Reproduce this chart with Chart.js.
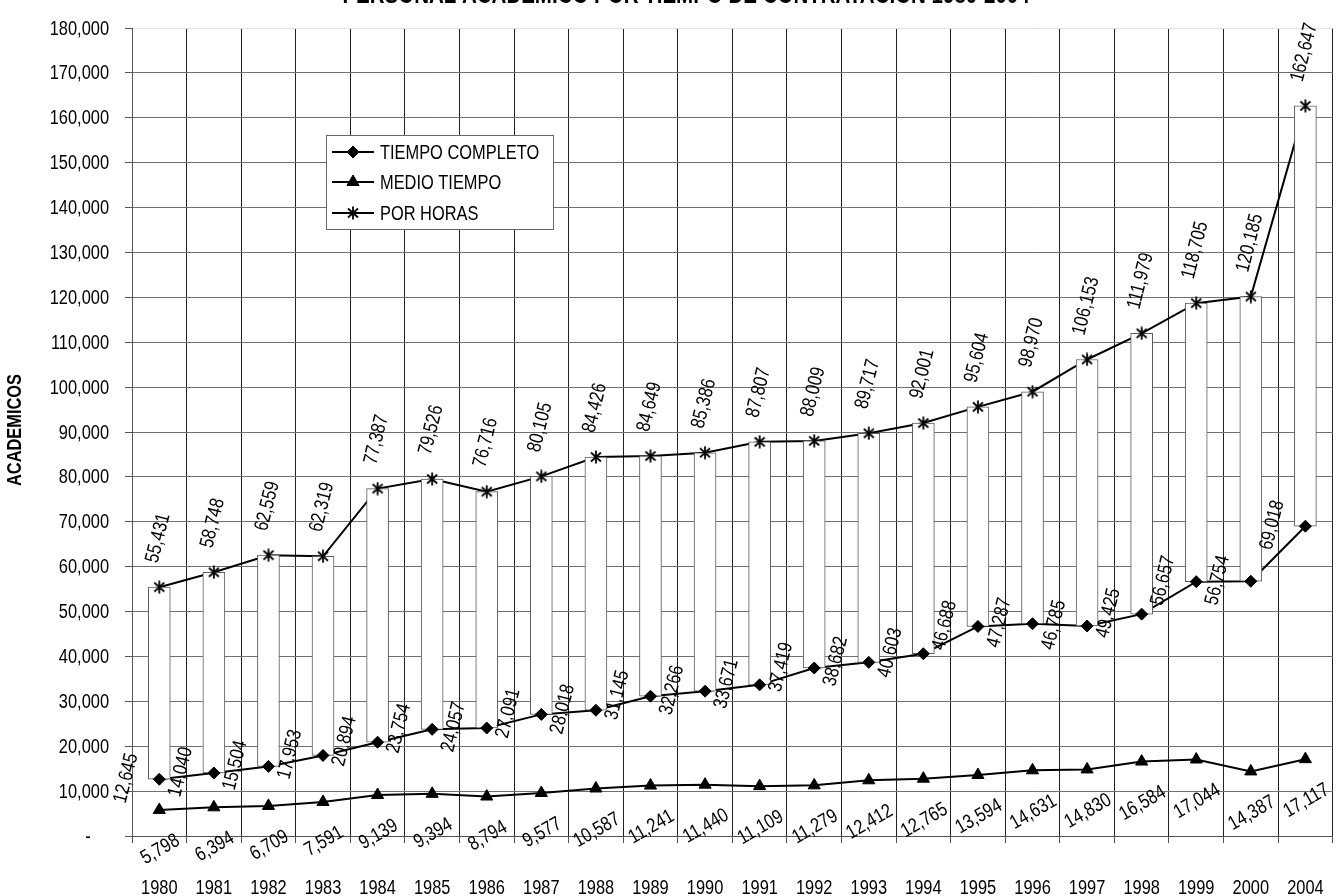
<!DOCTYPE html>
<html>
<head>
<meta charset="utf-8">
<script src="https://cdn.jsdelivr.net/npm/chart.js@4/dist/chart.umd.min.js"></script>
<style>
  html, body { margin: 0; padding: 0; background: #fff; overflow: hidden; }
  #wrap { width: 1360px; height: 896px; }
</style>
</head>
<body>
<div id="wrap"><canvas id="c" width="1360" height="896"></canvas></div>
<script>
// Personal académico por tiempo de contratación, 1980-2004
const years = ['1980','1981','1982','1983','1984','1985','1986','1987','1988','1989','1990',
               '1991','1992','1993','1994','1995','1996','1997','1998','1999','2000','2004'];
const tiempoCompleto = [12645, 14040, 15504, 17953, 20894, 23754, 24057, 27091, 28018, 31145, 32266,
                        33671, 37419, 38682, 40603, 46688, 47287, 46785, 49425, 56657, 56754, 69018];
const medioTiempo = [5798, 6394, 6709, 7591, 9139, 9394, 8794, 9577, 10587, 11241, 11440,
                     11109, 11279, 12412, 12765, 13594, 14631, 14830, 16584, 17044, 14387, 17117];
const porHoras = [55431, 58748, 62559, 62319, 77387, 79526, 76716, 80105, 84426, 84649, 85386,
                  87807, 88009, 89717, 92001, 95604, 98970, 106153, 111979, 118705, 120185, 162647];
const seriesNames = ['TIEMPO COMPLETO', 'MEDIO TIEMPO', 'POR HORAS'];
const chartTitle = 'PERSONAL ACADEMICO POR TIEMPO DE CONTRATACION 1980-2004';
const axisTitle = 'ACADEMICOS';

const FAMILY = "'Liberation Sans', Arial, sans-serif";
const NARROW = 0.82;          // horizontal squeeze for a narrow typeface look
const fmt = v => v.toLocaleString('en-US');
const yLabel = v => v === 0 ? '-    ' : fmt(v);

// asterisk marker: an X crossed by a vertical stroke
const asterisk = (() => {
  const c = document.createElement('canvas');
  c.width = 14; c.height = 14;
  const g = c.getContext('2d');
  g.strokeStyle = '#000'; g.lineWidth = 1.8;
  g.beginPath();
  g.moveTo(7, 0.5); g.lineTo(7, 13.5);
  g.moveTo(2, 2.5); g.lineTo(12, 11.5);
  g.moveTo(12, 2.5); g.lineTo(2, 11.5);
  g.stroke();
  return c;
})();

const markerStyles = [
  { pointStyle: 'rectRot', radius: 6 },
  { pointStyle: 'triangle', radius: 7 },
  { pointStyle: asterisk, radius: 6 }
];
const seriesData = [tiempoCompleto, medioTiempo, porHoras];

// connecting lines (beneath the range bars)
const lineSets = seriesData.map((d, i) => ({
  type: 'line', label: seriesNames[i], data: d,
  borderColor: '#000', borderWidth: 2, tension: 0,
  pointRadius: 0, pointHoverRadius: 0, order: 3
}));
// markers (above the range bars)
const pointSets = seriesData.map((d, i) => ({
  type: 'line', label: seriesNames[i] + ' ', data: d, showLine: false,
  pointStyle: markerStyles[i].pointStyle, pointRadius: markerStyles[i].radius,
  pointBackgroundColor: '#000', pointBorderColor: '#000', pointBorderWidth: 1,
  order: 1
}));
// white range bar from tiempo completo up to por horas
const rangeBars = {
  type: 'bar', label: 'rango', data: tiempoCompleto.map((v, i) => [v, porHoras[i]]),
  backgroundColor: '#fff', borderColor: '#5a5a5a', borderWidth: 1, borderSkipped: false,
  barThickness: 22, order: 2
};

// text in a narrow style, optionally rotated around its anchor
function text(ctx, str, x, y, deg, align, baseline) {
  ctx.save();
  ctx.translate(x, y);
  if (deg) ctx.rotate(deg * Math.PI / 180);
  ctx.scale(NARROW, 1);
  ctx.textAlign = align || 'center';
  ctx.textBaseline = baseline || 'middle';
  ctx.fillText(str, 0, 0);
  ctx.restore();
}
function rotatedBox(ctx, str, deg, capH) {
  const L = ctx.measureText(str).width * NARROW;
  const a = Math.abs(deg) * Math.PI / 180;
  return { W: L * Math.cos(a) + capH * Math.sin(a), H: L * Math.sin(a) + capH * Math.cos(a) };
}

const decorations = {
  id: 'decorations',
  afterDraw(chart) {
    const ctx = chart.ctx;
    const xs = chart.scales.x, ys = chart.scales.y;
    ctx.save();
    ctx.fillStyle = '#000';
    ctx.font = '20px ' + FAMILY;

    // axis tick labels
    ys.ticks.forEach(t => text(ctx, yLabel(t.value), 109, ys.getPixelForValue(t.value) + 1, 0, 'right'));
    years.forEach((y, i) => text(ctx, y, xs.getPixelForValue(i), 888, 0, 'center'));

    // value labels
    const capH = 14.5;
    const metaTC = chart.getDatasetMeta(3), metaMT = chart.getDatasetMeta(4), metaPH = chart.getDatasetMeta(5);
    tiempoCompleto.forEach((v, i) => {
      const p = metaTC.data[i], s = fmt(v), b = rotatedBox(ctx, s, 76, capH);
      text(ctx, s, p.x - 20 - b.W / 2, p.y - 1, -76);
    });
    medioTiempo.forEach((v, i) => {
      const p = metaMT.data[i], s = fmt(v), b = rotatedBox(ctx, s, 30, capH);
      text(ctx, s, p.x + 1, p.y + 23 + b.H / 2, -30);
    });
    porHoras.forEach((v, i) => {
      const p = metaPH.data[i], s = fmt(v), b = rotatedBox(ctx, s, 76, capH);
      text(ctx, s, p.x - 1, p.y - 23 - b.H / 2, -76);
    });

    // legend
    const lx = 326.5, ly = 135.5, lw = 227, lh = 94;
    ctx.fillStyle = '#fff';
    ctx.fillRect(lx, ly, lw, lh);
    ctx.strokeStyle = '#666'; ctx.lineWidth = 1;
    ctx.strokeRect(lx, ly, lw, lh);
    const rows = [152, 182, 213];
    seriesNames.forEach((name, i) => {
      const y = rows[i];
      ctx.strokeStyle = '#000'; ctx.lineWidth = 2;
      ctx.beginPath(); ctx.moveTo(332, y); ctx.lineTo(374, y); ctx.stroke();
      ctx.fillStyle = '#000'; ctx.lineWidth = 1;
      Chart.helpers.drawPoint(ctx, { pointStyle: markerStyles[i].pointStyle, radius: markerStyles[i].radius, rotation: 0, borderWidth: 1 }, 353, y);
      ctx.fillStyle = '#000';
      ctx.font = '20px ' + FAMILY;
      text(ctx, name, 380, y + 1, 0, 'left');
    });

    // chart title and axis title
    ctx.fillStyle = '#000';
    ctx.font = 'bold 25px ' + FAMILY;
    text(ctx, chartTitle, 686, 3, 0, 'center', 'alphabetic');
    ctx.font = 'bold 20px ' + FAMILY;
    text(ctx, axisTitle, 15, 430, -90, 'center', 'middle');
    ctx.restore();
  }
};

new Chart(document.getElementById('c'), {
  data: { labels: years, datasets: [...lineSets, ...pointSets, rangeBars] },
  options: {
    responsive: false, animation: false, devicePixelRatio: 1,
    layout: { padding: { top: 24, left: 0, right: 16, bottom: 0 } },
    plugins: { legend: { display: false }, title: { display: false }, tooltip: { enabled: false } },
    events: [],
    scales: {
      x: {
        type: 'category', offset: true,
        grid: { offset: true, color: '#222', lineWidth: 1, tickLength: 7, tickColor: '#555' },
        border: { color: '#555' },
        ticks: { color: 'rgba(0,0,0,0)', font: { family: FAMILY, size: 20 }, padding: 32, maxRotation: 0, autoSkip: false },
        afterFit: s => { s.height = 60; }
      },
      y: {
        min: 0, max: 180000,
        grid: { color: c => (c.tick && c.tick.value === 180000) ? '#e2e2e2' : '#707070', lineWidth: 1, tickLength: 7, tickColor: '#555' },
        border: { color: '#555' },
        ticks: { stepSize: 10000, padding: 16, color: 'rgba(0,0,0,0)', font: { family: FAMILY, size: 20 },
                 callback: v => yLabel(v) },
        afterFit: s => { s.width = 132; }
      }
    }
  },
  plugins: [decorations]
});
</script>
</body>
</html>
